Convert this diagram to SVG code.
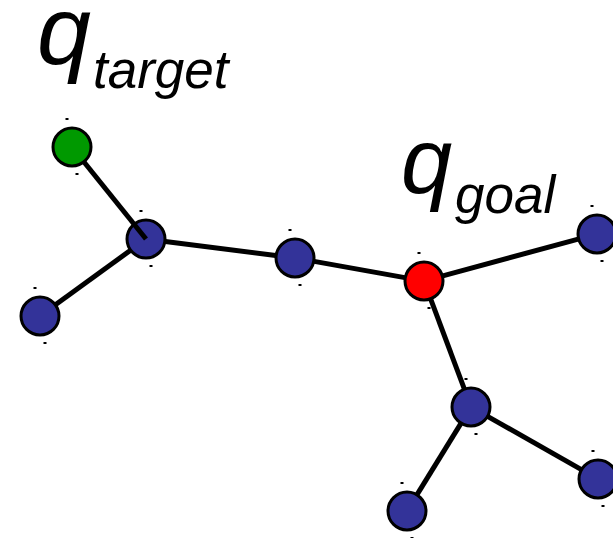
<svg xmlns="http://www.w3.org/2000/svg" width="613" height="538" viewBox="0 0 613 538">
<style>
.n{stroke:#000;stroke-width:3}
.blue{fill:#333399}
.red{fill:#ff0000}
.green{fill:#009900}
.d{fill:#000}
.e{stroke:#000;stroke-width:5;fill:none}
.q{font-family:"Liberation Sans",Arial,sans-serif;font-style:italic;fill:#000}
.s{font-family:"Liberation Sans",Arial,sans-serif;font-style:italic;font-size:53px;fill:#000}
</style>
<rect width="613" height="538" fill="#fff"/>
<g id="labels">
<text class="q" x="37" y="64" font-size="97">q</text>
<text class="s" x="93" y="88">target</text>
<text class="q" x="401" y="193" font-size="92">q</text>
<text class="s" x="455" y="213">goal</text>
</g>
<g id="nodes">
<g id="n-target"><circle class="n green" cx="72" cy="147" r="19"/><rect class="d" x="65.5" y="118" width="3" height="2"/><rect class="d" x="75.5" y="173" width="3" height="2"/></g>
<g id="n-a"><circle class="n blue" cx="146" cy="239" r="19"/><rect class="d" x="139.5" y="210" width="3" height="2"/><rect class="d" x="149.5" y="265" width="3" height="2"/></g>
<g id="n-l"><circle class="n blue" cx="40" cy="316" r="19"/><rect class="d" x="33.5" y="287" width="3" height="2"/><rect class="d" x="43.5" y="342" width="3" height="2"/></g>
<g id="n-b"><circle class="n blue" cx="295" cy="258" r="19"/><rect class="d" x="288.5" y="229" width="3" height="2"/><rect class="d" x="298.5" y="284" width="3" height="2"/></g>
<g id="n-goal"><circle class="n red" cx="424" cy="281" r="19"/><rect class="d" x="417.5" y="252" width="3" height="2"/><rect class="d" x="427.5" y="307" width="3" height="2"/></g>
<g id="n-u"><circle class="n blue" cx="597" cy="234" r="19"/><rect class="d" x="590.5" y="205" width="3" height="2"/><rect class="d" x="600.5" y="260" width="3" height="2"/></g>
<g id="n-c"><circle class="n blue" cx="471" cy="407" r="19"/><rect class="d" x="464.5" y="378" width="3" height="2"/><rect class="d" x="474.5" y="433" width="3" height="2"/></g>
<g id="n-d"><circle class="n blue" cx="407" cy="511" r="19"/><rect class="d" x="400.5" y="482" width="3" height="2"/><rect class="d" x="410.5" y="537" width="3" height="2"/></g>
<g id="n-e"><circle class="n blue" cx="598" cy="479" r="19"/><rect class="d" x="591.5" y="450" width="3" height="2"/><rect class="d" x="601.5" y="505" width="3" height="2"/></g>
</g>
<g id="connectors">
<line class="e" x1="84.2" y1="162.2" x2="146" y2="239"/>
<line class="e" x1="130.2" y1="250.5" x2="55.8" y2="304.5"/>
<line class="e" x1="165.3" y1="241.5" x2="275.7" y2="255.5"/>
<line class="e" x1="314.2" y1="261.4" x2="404.8" y2="277.6"/>
<line class="e" x1="442.8" y1="275.9" x2="578.2" y2="239.1"/>
<line class="e" x1="430.8" y1="299.3" x2="464.2" y2="388.7"/>
<line class="e" x1="460.8" y1="423.6" x2="417.2" y2="494.4"/>
<line class="e" x1="488.0" y1="416.6" x2="581.0" y2="469.4"/>
</g>
</svg>
